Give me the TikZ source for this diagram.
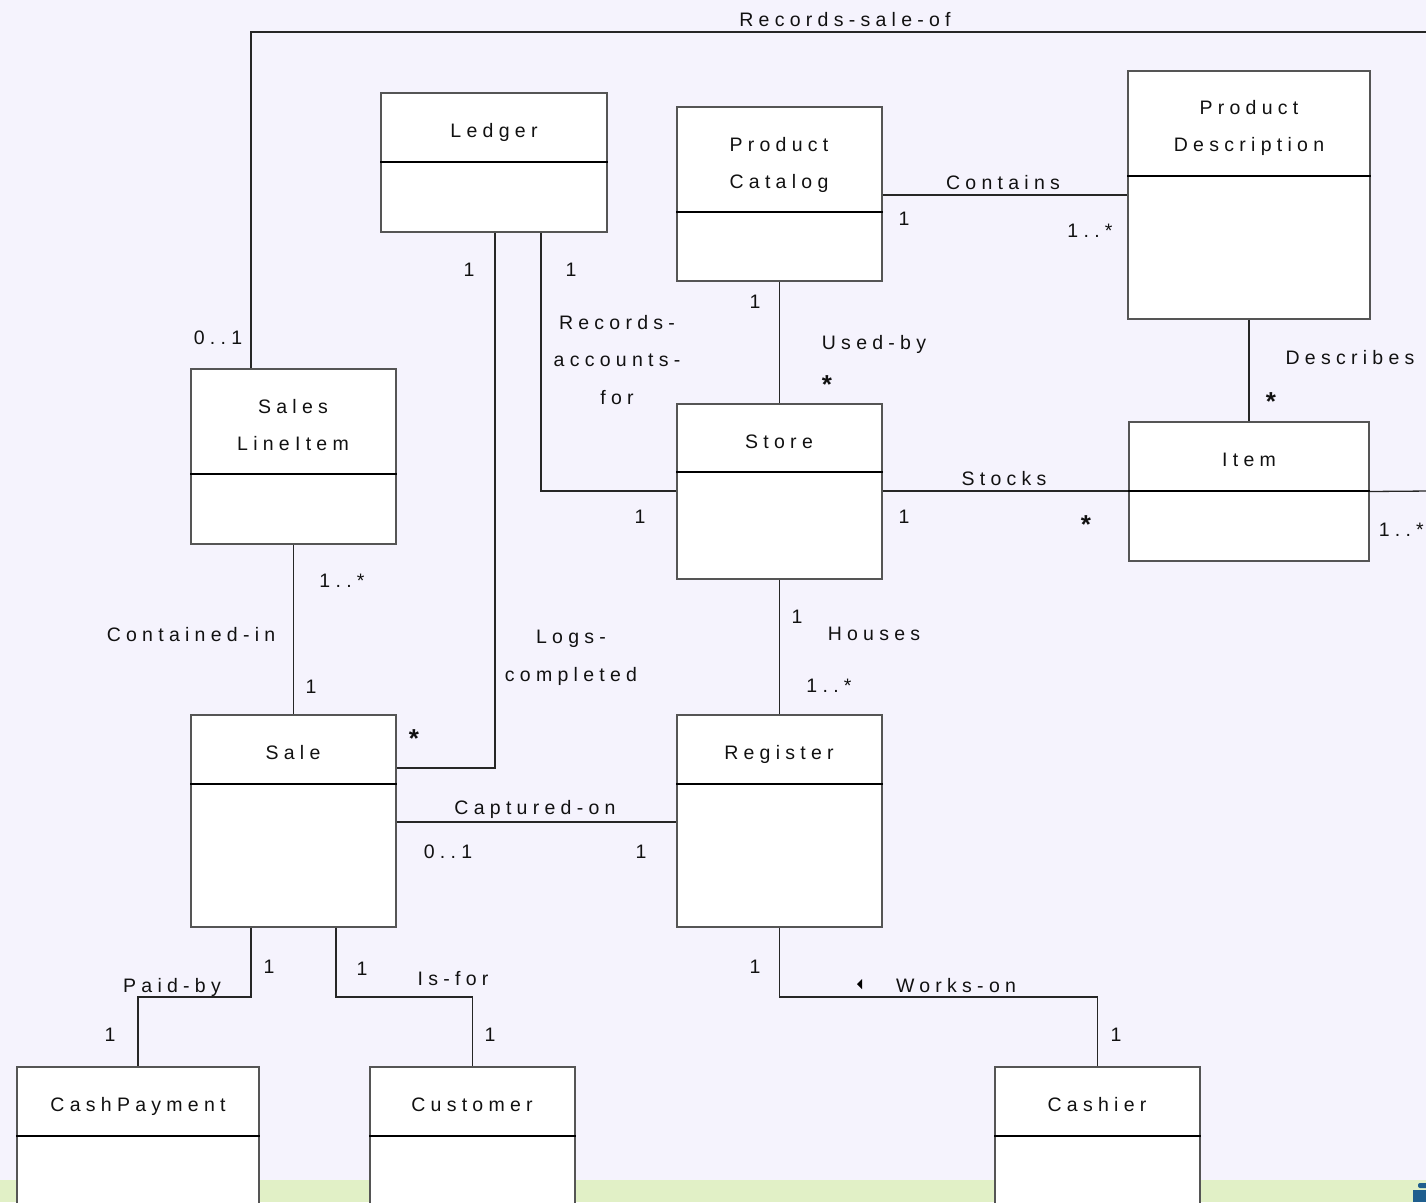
\documentclass[tikz,border=0pt]{standalone}
\usepackage{fontspec}
\setmainfont{Liberation Sans}[LetterSpace=27]
\definecolor{bgc}{HTML}{F5F3FD}
\definecolor{stripc}{HTML}{E1F0C6}
\definecolor{boxgray}{HTML}{555555}
\definecolor{logoc}{HTML}{1F5E8E}
\definecolor{txtc}{HTML}{111111}
\begin{document}
\begin{tikzpicture}[x=1pt,y=-1pt,
  box/.style={draw=boxgray, fill=white, line width=1.4pt, inner sep=0pt},
  divline/.style={draw=black, line width=1.3pt},
  conn/.style={draw=black!85, line width=1.3pt},
  lbl/.style={inner sep=0pt, text=txtc, font=\fontsize{19.5}{37}\selectfont, text height=14pt, text depth=0pt, align=center},
  starl/.style={inner sep=0pt, text=txtc, font=\fontsize{26}{26}\selectfont\bfseries, anchor=north}
]
\useasboundingbox (0,0) rectangle (1426,1202);
\fill[bgc] (0,0) rectangle (1426,1202);
\fill[stripc] (0,1180) rectangle (1426,1202);
\fill[logoc] (1413,1190) rectangle (1426,1202);
\fill[logoc, rounded corners=2pt] (1418,1183) rectangle (1428,1188);

% boxes
\node[box, minimum width=226, minimum height=139] (ledger) at (494,162.5) {};
\node[box, minimum width=205, minimum height=174] (catalog) at (779.5,194) {};
\node[box, minimum width=242, minimum height=248] (desc) at (1249,195) {};
\node[box, minimum width=205, minimum height=175] (sli) at (293.5,456.5) {};
\node[box, minimum width=205, minimum height=175] (store) at (779.5,491.5) {};
\node[box, minimum width=240, minimum height=139] (item) at (1249,491.5) {};
\node[box, minimum width=205, minimum height=212] (sale) at (293.5,821) {};
\node[box, minimum width=205, minimum height=212] (register) at (779.5,821) {};
\node[box, minimum width=242, minimum height=148] (cashpay) at (138,1141) {};
\node[box, minimum width=205, minimum height=148] (customer) at (472.5,1141) {};
\node[box, minimum width=205, minimum height=148] (cashier) at (1097.5,1141) {};

% dividers
\draw[divline] (ledger.west |- 0,162) -- (ledger.east |- 0,162);
\draw[divline] (catalog.west |- 0,212) -- (catalog.east |- 0,212);
\draw[divline] (desc.west |- 0,176) -- (desc.east |- 0,176);
\draw[divline] (sli.west |- 0,474) -- (sli.east |- 0,474);
\draw[divline] (store.west |- 0,472) -- (store.east |- 0,472);
\draw[divline] (item.west |- 0,491) -- (item.east |- 0,491);
\draw[divline] (sale.west |- 0,784) -- (sale.east |- 0,784);
\draw[divline] (register.west |- 0,784) -- (register.east |- 0,784);
\draw[divline] (cashpay.west |- 0,1136) -- (cashpay.east |- 0,1136);
\draw[divline] (customer.west |- 0,1136) -- (customer.east |- 0,1136);
\draw[divline] (cashier.west |- 0,1136) -- (cashier.east |- 0,1136);

% titles
\node[lbl] (tLedger) at (494,130) {Ledger};
\node[lbl] (tCatalog) at (779,181) {Product\\Catalog};
\node[lbl] (tDesc) at (1249,144) {Product\\Description};
\node[lbl] (tSli) at (293,443) {Sales\\LineItem};
\node[lbl] (tStore) at (779,441) {Store};
\node[lbl] (tItem) at (1249,459) {Item};
\node[lbl] (tSale) at (293,752) {Sale};
\node[lbl] (tRegister) at (779,752) {Register};
\node[lbl] (tCashpay) at (138,1104) {CashPayment};
\node[lbl] (tCustomer) at (472,1104) {Customer};
\node[lbl] (tCashier) at (1097,1104) {Cashier};

% edge coordinates
\coordinate (edgeA) at (1430,32);
\coordinate (edgeB) at (1430,491);

% connectors
\draw[conn] (sli.north -| 251,0) -- (251,32) -- (edgeA);
\draw[conn] (item.east) -- (edgeB);
\draw[conn] (ledger.south -| 495,0) |- (sale.east |- 0,768);
\draw[conn] (ledger.south -| 541,0) |- (store.west |- 0,491);
\draw[conn] (catalog.east |- 0,195) -- (desc.west |- 0,195);
\draw[conn] (catalog.south) -- (store.north);
\draw[conn] (desc.south) -- (item.north);
\draw[conn] (store.east |- 0,491) -- (item.west |- 0,491);
\draw[conn] (sli.south) -- (sale.north);
\draw[conn] (store.south) -- (register.north);
\draw[conn] (sale.east |- 0,822) -- (register.west |- 0,822);
\draw[conn] (sale.south -| 251,0) -- (251,997) -| (cashpay.north);
\draw[conn] (sale.south -| 336,0) -- (336,997) -| (customer.north);
\draw[conn] (register.south) -- (register.south |- 0,997) -| (cashier.north);

% labels
\node[lbl] (l1) at (845,19) {Records-sale-of};
\node[lbl] (l2) at (218,337) {0..1};
\node[lbl] (l3) at (469,269) {1};
\node[lbl] (l4) at (571,269) {1};
\node[lbl] (l5) at (617,322) {Records-};
\node[lbl] (l6) at (617,359) {accounts-};
\node[lbl] (l7) at (617,397) {for};
\node[lbl] (l8) at (1003,182) {Contains};
\node[lbl] (l9) at (904,218) {1};
\node[lbl] (l10) at (1090,230) {1..*};
\node[lbl] (l11) at (755,301) {1};
\node[lbl] (l12) at (874,342) {Used-by};
\node[lbl] (l13) at (1350,357) {Describes};
\node[lbl] (l14) at (1004,478) {Stocks};
\node[lbl] (l15) at (640,516) {1};
\node[lbl] (l16) at (904,516) {1};
\node[lbl, anchor=east] (l17) at (1424,529) {1..*};
\node[lbl] (l18) at (342,580) {1..*};
\node[lbl] (l19) at (191,634) {Contained-in};
\node[lbl] (l20) at (571,636) {Logs-};
\node[lbl] (l21) at (571,674) {completed};
\node[lbl] (l22) at (797,616) {1};
\node[lbl] (l23) at (874,633) {Houses};
\node[lbl] (l24) at (829,685) {1..*};
\node[lbl] (l25) at (311,686) {1};
\node[lbl] (l26) at (535,807) {Captured-on};
\node[lbl] (l27) at (448,851) {0..1};
\node[lbl] (l28) at (641,851) {1};
\node[lbl] (l29) at (269,966) {1};
\node[lbl] (l30) at (362,968) {1};
\node[lbl] (l31) at (755,966) {1};
\node[lbl] (l32) at (172,985) {Paid-by};
\node[lbl] (l33) at (453,978) {Is-for};
\node[lbl] (l34) at (956,985) {Works-on};
\node[lbl] (l35) at (110,1034) {1};
\node[lbl] (l36) at (490,1034) {1};
\node[lbl] (l37) at (1116,1034) {1};

% stars
\node[starl] (s1) at (827,375) {*};
\node[starl] (s2) at (1271,392) {*};
\node[starl] (s3) at (1086,515) {*};
\node[starl] (s4) at (414,729) {*};

% navigation triangle
\fill[black] (857,984) -- (862,979) -- (862,989) -- cycle;
\end{tikzpicture}
\end{document}
